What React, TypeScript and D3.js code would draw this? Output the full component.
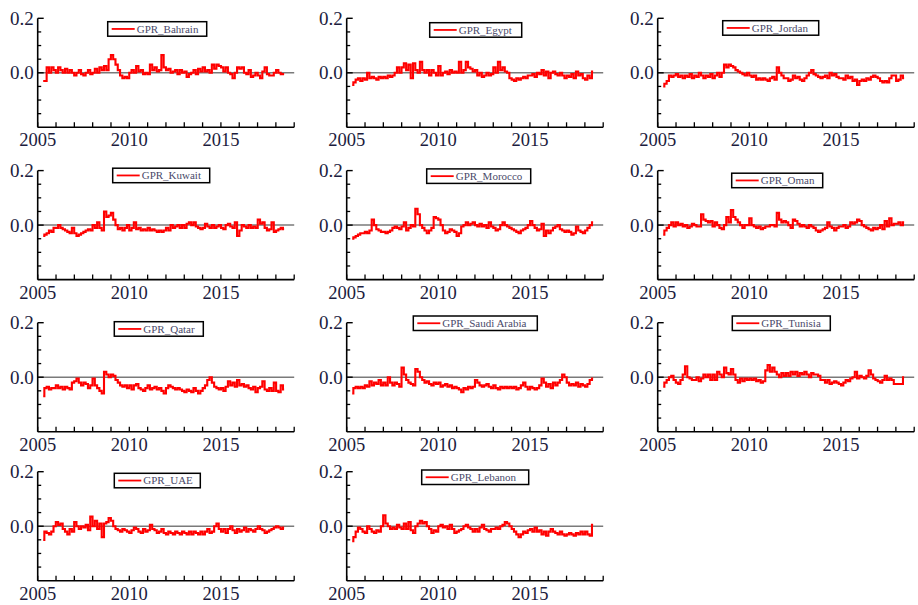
import React from "react";
import * as d3 from "d3";

// GPR series, in hundredths, about 8 values a year, mid-2005 to mid-2018
const countries = ["Bahrain", "Egypt", "Jordan", "Kuwait", "Morocco", "Oman", "Qatar", "Saudi Arabia", "Tunisia", "UAE", "Lebanon"];

const bahrain = [
  -3, -3, 2, 0, 2, 1,
  0, 2, 1, 0, 1.5, 0, 1, 0,
  -1, 0, 1, -0.5, -1, 0, 1, -0.5,
  0, 1.5, 0, 2, 1, 2.5, 1, 5,
  6.5, 5, 3, 1, -1, -2, -1.5, -2,
  0, 1, 0, 2.5, 0.5, 1, -0.5, 0,
  -0.5, 3, 1, 2, 0.5, 1, 6.5, 2,
  1, 1.5, 0, 0.5, 1, -0.5, 1, 0,
  0.5, -1.5, -0.5, 0, 1, -0.5, 1.5, 0.5,
  2, 0.5, 1, 0, 3, 1.5, 3, 2.5,
  2, 0.5, 2, 0, -0.5, -2, 0, 2,
  1.5, 2, 0, -0.5, 1, -1.5, -1, 0,
  -1, -2, 0.5, 2, -0.5, -1, -1, 0,
  1, 0, -0.5, -0.5,
];
const egypt = [
  -4.5, -3.5, -2.5, -2, -3, -2,
  -2.5, 0, -2, -1.5, -2, -2.5, -1.5, -2,
  -1.5, -2, -1, -1.5, -1, 0, 2, 0,
  2, 3.5, 1, 3, -2, 3.5, 1, 0,
  4, 1, 0, 1, -1, 1, 0, -1,
  2.5, -1, 0, 0.5, -0.5, 1, 0, 0.5,
  0, 4, 0, 1, 4, 2, 1.5, 0.5,
  1, -1, 0, -1.5, -1, 0, -1, -0.5,
  2, 0, 4, 1, 2, 0.5, 0, -2,
  -2.5, -3, -2, -2.5, -2, -1.5, -2, -1,
  -1, -0.5, -1.5, 0, -0.5, 1, -1, 0.5,
  -2, 0, 0.5, -0.5, -1, 0, -1, -2,
  -1, -1.5, -0.5, -2, 0.5, -1, -0.5, -2,
  -2.5, -1, -2, 0.5,
];
const jordan = [
  -5, -4, -3, -1, -1.5, -1,
  -0.5, -1.5, -1, -2, -1, -1.5, -0.5, -2,
  -1, -1.5, 0, -1, -2, -1, -1.5, -0.5,
  -2, -1, 0, -1.5, 0, 3, 2, 3,
  2.5, 2, 1, 0.5, 0, -0.5, -1, 0,
  -1, -1.5, -1, -2.5, -2, -2.5, -2, -2.5,
  -3, -2, -1.5, -2.5, 2, 0, -1, -2,
  -2, -3, -2.5, -1, -2, -1.5, -2.5, -3,
  -2, -1, 0, 1, -0.5, -1, -1.5, -2,
  -1.5, -1, -2, 0, -1, -0.5, -1.5, -2,
  -2, -2.5, -1, -2, -1.5, -3, -2.5, -4.5,
  -3, -2.5, -3, -2, -2.5, -1.5, -1, -1.5,
  -2, -3, -3.5, -3, -3.5, -2, -1, -1,
  -3, -2.5, -1, -2,
];
const kuwait = [
  -4, -3.5, -3, -2, -2.5, -1,
  -1, 0, -1, -1.5, -2, -2.5, -3, -1,
  -3, -4, -3.5, -3, -2.5, -2, -1.5, -2,
  0, -1, 1, -1, -2, 5, 3, 3.5,
  4.5, 2, 0, -1.5, -1, -2, -1, 0,
  -2, -1, 1, -1.5, -1, -2, -1.5, -2,
  -1, -2, -1.5, -2, -2.5, -2, -2.5, -2,
  -1, -2, 0, -1, -0.5, 0, -1, 0,
  -1, 0.5, 1, 0, 1, -0.5, -1, -1.5,
  -1, 0.5, -0.5, -1, 0, -1, -0.5, 0,
  -1, -1.5, 0, 0.5, -0.5, -1, 1, -4,
  -2, 0, -0.5, -1, 0, -1, -0.5, -1,
  2, 0.5, 1, -1, -2, -1.5, 1, -2.5,
  -2, -1.5, -1, -1.5,
];
const morocco = [
  -5, -4.5, -4, -3.5, -3, -3,
  -2.5, -3, -2, 2, 0, -1.5, -2, -2.5,
  -2.5, -3, -2.5, -2, -1, -0.5, -1, -1.5,
  -0.5, 1, -2, -1, 0, -0.5, 6, 4,
  0, -1, -2, -3, -2, -1, 3, 2.5,
  2, 0, -2, -3, -2.5, -1.5, -2, -2.5,
  -4, -3, -0.5, 0, 1, 0, 0.5, 1,
  0, -0.5, 0.5, -0.5, 0, -1, 1, -0.5,
  -1, -2, -1.5, 0, 1, 0, -0.5, -1,
  -1.5, -2, -2.5, -3, -2, -1.5, -1, 0,
  1.5, 0, -1, -2, -1.5, 0.5, -4, -2,
  -3, -2, -1, -0.5, 0, -1.5, -2, -2.5,
  -2, -2.5, -3.5, -3, -0.5, -2, -2.5, -3,
  -2, -1, 0, 1,
];
const oman = [
  -3.5, -2, -1, 0, 1, -0.5,
  1, 0, 0.5, -0.5, 0, -1, -0.5, 0.5,
  0, -0.5, -0.5, 4, 2, 1.5, 1, 1.5,
  -0.5, 1, 0, -1, -1.5, 0, 3, 1,
  5.5, 3, 2, 1, 0, -1, 0, 0,
  2.5, 0, -0.5, -1, -0.5, -1.5, -1, -0.5,
  -0.5, 0, 0, -0.5, 4.5, 2, 1, 1.5,
  1, 0, -1, 2, 1.5, 0.5, -0.5, 0,
  -0.5, -1, 0, -0.5, -1, -2, -2.5, -2,
  -1.5, -1, 1, -0.5, -1, -2, -1, -0.5,
  -0.5, 0, -1, -0.5, 1, 0.5, 1, 2,
  1.5, 0, -0.5, -1, -1.5, -2, -1, -1.5,
  -1, 0, -1.5, 1.5, -0.5, 2.5, 0, 0.5,
  0.5, 1, 0, 1,
];
const qatar = [
  -7, -4, -3.5, -4.5, -4, -4,
  -3, -4, -3.5, -4.5, -3.5, -4, -4.5, -2,
  -1.5, -0.5, -2, -3, -2, -2.5, -4, -3,
  -0.5, -3, -4, -5, -6, 2, 1, 0,
  1, 0.5, -1, -2, -3, -3.5, -3, -4,
  -3, -4.5, -3, -2.5, -4, -4.5, -5, -4,
  -3, -4.5, -4, -3.5, -4.5, -4, -5, -6,
  -4, -3, -3.5, -4, -4.5, -4, -4.5, -5,
  -5.5, -4.5, -5, -5.5, -4, -5, -6, -5,
  -4, -3, -1, 0, -2, -3.5, -4, -4.5,
  -4, -5, -3.5, -1.5, -3, -2, -3.5, -1,
  -3, -2.5, -3.5, -3, -4, -4.5, -3.5, -5.5,
  -4, -3.5, -1.5, -4.5, -5, -4, -5, -2,
  -5, -5.5, -3, -4.5,
];
const saudi = [
  -6, -4, -3.5, -4, -3.5, -4,
  -3, -3.5, -1.5, -3, -2, -2.5, -1, -3,
  -2, -3, 0, -2, -3, -2, -2.5, -3.5,
  3.5, 1, -1, -2, -2.5, -3, 3, 2,
  0, -1, -2, -1.5, -2.5, -3, -2, -2.5,
  -2, -3.5, -3, -2.5, -3.5, -3, -4, -3.5,
  -4, -4.5, -5.5, -4, -4.5, -3.5, -4, -3.5,
  -1, -2, -3, -3.5, -3, -2.5, -3.5, -4,
  -3, -4, -4.5, -3.5, -4, -3.5, -4, -3.5,
  -4, -3.5, -4.5, -4, -3, -2, -3.5, -4.5,
  -3.5, -4, -4.5, -4, -3, -0.5, -2, -3.5,
  -2.5, -4, -2, -3, -2, -1, 1, 0,
  -2, -3, -2.5, -3, -2, -3.5, -2.5, -3,
  -3.5, -2.5, -1, -0.5,
];
const tunisia = [
  -3.5, -2, -1, 0, 0.5, -1,
  -2, -2.5, -1, 1, 4, 0, -0.5, -1,
  -1, 0, -1.5, -0.5, 1, 0, 1, -1,
  1, -1, 2, 1, 0, 3.5, 1.5, 1,
  3, 1, -1, -2, -0.5, -1.5, -0.5, -1,
  -0.5, -1, -0.5, -1.5, -1, -2, -1.5, 2.5,
  4.5, 2, 3.5, 2, 1, 0, 1.5, 0.5,
  1.5, 0.5, 2, 1, 2, 0.5, 1.5, 1,
  2, 1, 0, 1.5, 1, 1, 0.5, -1,
  -1, -2, -1, -2.5, -2, -1.5, -2, -2.5,
  -3, -2, -1, -1.5, -0.5, 0, 2, -0.5,
  0.5, 0, -0.5, 0.5, 2.5, 1, -0.5, -1,
  -1.5, -2, -1, 0.5, -1, -0.5, -1, -2.5,
  -2.5, -2.5, -2.5, 0,
];
const uae = [
  -5, -2, -2.5, -3, -2, 0,
  1.5, 0.5, 1, -1, -2, -3, -1, -2,
  1.5, 0, -1, 0, -0.5, 0.5, -1.5, 3.5,
  0, 2, -1, 1, -4, 1, 1.5, 3,
  2, 0, -1, -1.5, -2, -1, -1.5, -2,
  -2.5, -1.5, -0.5, -1, -2, -2.5, -1, -2,
  -1.5, 0.5, -1, -1.5, -2.5, -2, -1, -2.5,
  -3, -2, -2.5, -3, -2, -2.5, -3, -2,
  -2.5, -3, -2, -3, -2, -2.5, -3, -2,
  -3, -2, -1, -2.5, -2, 0, 1, -1,
  -2, -1, -2.5, -1, 0, -1.5, -2.5, -1,
  -2, -1.5, -0.5, -2, -1, -1.5, -2, -1,
  0, -1, -1.5, -2.5, -2, -1.5, -1, -0.5,
  0, -0.5, -1, -0.5,
];
const lebanon = [
  -5.5, -4, -2, -0.5, -1, -2,
  -2.5, 0, -1, -2, -2.5, -1.5, -2, 0,
  4, 1, 0, -1, -0.5, -1, 0.5, -0.5,
  -1, 1, -1, 1.5, -1.5, -2.5, 0, 1,
  2, 1, 1.5, 0, -1, -2.5, -1.5, -2,
  0, 0.5, -0.5, 0, -1, 0.5, -1, -2.5,
  -2, -1.5, -1, 0, 0.5, -0.5, -1, -2,
  -1, -2, -0.5, 0.5, -1, -1.5, -2, -1,
  -1, -0.5, -1, 0, 0.5, 1.5, 1, 0,
  -1, -2, -3, -4, -3, -2, -2.5, -1.5,
  -1, -2, -0.5, -2, -1.5, -3, -2, -3.5,
  -2, -1, -2, -2.5, -3, -2, -3, -3.5,
  -3, -2.5, -3, -3.5, -2.5, -3, -2, -3,
  -2, -3, -3.5, 0.5,
];

const seriesList = [bahrain, egypt, jordan, kuwait, morocco, oman, qatar, saudi, tunisia, uae, lebanon];

const startYear = 2005.3;
const endYear = 2018.45;
const yearTicks = d3.range(2005, 2020);
const yearLabels = [2005, 2010, 2015];
const yLabels = [0.2, 0.0];
const yMinor = [-0.15, -0.1, -0.05, 0.05, 0.1, 0.15];

// layout
const colX = [37.7, 346.7, 657.7];
const rowY = [18.3, 170.6, 322.7, 471.7];
const plotW = 256.5;
const plotH = 109;
// legend box offset from panel origin: dx, dy, width
const legendBox = [
  [70, 3.4, 99], [83, 4.4, 92], [65, 2.4, 96],
  [75, -2.4, 97], [80, -1.7, 104], [74, 2.6, 91],
  [76.6, -1, 89], [66.6, -6.7, 124], [74.6, -6.7, 98],
  [76.6, 1.6, 86], [75, -1.7, 107],
];

const labelColor = "#1c1c3e";
const serif = "'Liberation Serif', 'Times New Roman', serif";

type PanelProps = { name: string; values: number[]; x0: number; y0: number; leg: number[] };

const Panel = ({ name, values, x0, y0, leg }: PanelProps) => {
  const x = d3.scaleLinear().domain([2005, 2019]).range([0, plotW]);
  const y = d3.scaleLinear().domain([-0.2, 0.2]).range([plotH, 0]);
  const step = (endYear - startYear) / (values.length - 1);
  const pts: [number, number][] = values.map((v, i) => [startYear + i * step, v / 100]);
  const line = d3
    .line<[number, number]>()
    .x((d) => x(d[0]))
    .y((d) => y(d[1]))
    .curve(d3.curveStep);

  return (
    <g transform={`translate(${x0},${y0})`}>
      <line x1={x(2005)} x2={x(2019)} y1={y(0)} y2={y(0)} stroke="#7a7a7a" strokeWidth={1.5} />
      <path d={line(pts) || ""} fill="none" stroke="#ff0000" strokeWidth={2.1} />
      {/* y axis */}
      <line x1={0} x2={0} y1={y(0.2)} y2={y(-0.2)} stroke="#000" strokeWidth={1.6} />
      {yLabels.map((t) => (
        <g key={t}>
          <line x1={0} x2={6} y1={y(t)} y2={y(t)} stroke="#000" strokeWidth={1.4} />
          <text x={-4} y={y(t)} dy="0.35em" textAnchor="end" fontFamily={serif} fontSize={19} fill={labelColor}>
            {d3.format(".1f")(t)}
          </text>
        </g>
      ))}
      {yMinor.map((t) => (
        <line key={t} x1={0} x2={3.5} y1={y(t)} y2={y(t)} stroke="#000" strokeWidth={1.3} />
      ))}
      {/* x axis */}
      <line x1={0} x2={x(2019)} y1={plotH} y2={plotH} stroke="#000" strokeWidth={1.6} />
      {yearTicks.map((t) => (
        <line key={t} x1={x(t)} x2={x(t)} y1={plotH} y2={plotH - 5} stroke="#000" strokeWidth={1.3} />
      ))}
      {yearLabels.map((t) => (
        <text key={t} x={x(t)} y={plotH + 19} textAnchor="middle" fontFamily={serif} fontSize={18.5} fill={labelColor}>
          {t}
        </text>
      ))}
      {/* legend */}
      <g transform={`translate(${leg[0]},${leg[1]})`}>
        <rect x={0} y={0} width={leg[2]} height={14.5} fill="#fff" stroke="#000" strokeWidth={1.5} />
        <line x1={4} x2={27} y1={7.25} y2={7.25} stroke="#ff0000" strokeWidth={1.8} />
        <text x={29} y={7.25} dy="0.35em" fontFamily={serif} fontSize={11} fill="#4a4a6a">
          {`GPR_${name}`}
        </text>
      </g>
    </g>
  );
};

export default function App() {
  return (
    <svg width={918} height={605} style={{ position: "absolute", left: 0, top: 0, background: "#fff" }}>
      {countries.map((c, i) => (
        <Panel
          key={c}
          name={c}
          values={seriesList[i]}
          x0={colX[i % 3]}
          y0={rowY[Math.floor(i / 3)]}
          leg={legendBox[i]}
        />
      ))}
    </svg>
  );
}
